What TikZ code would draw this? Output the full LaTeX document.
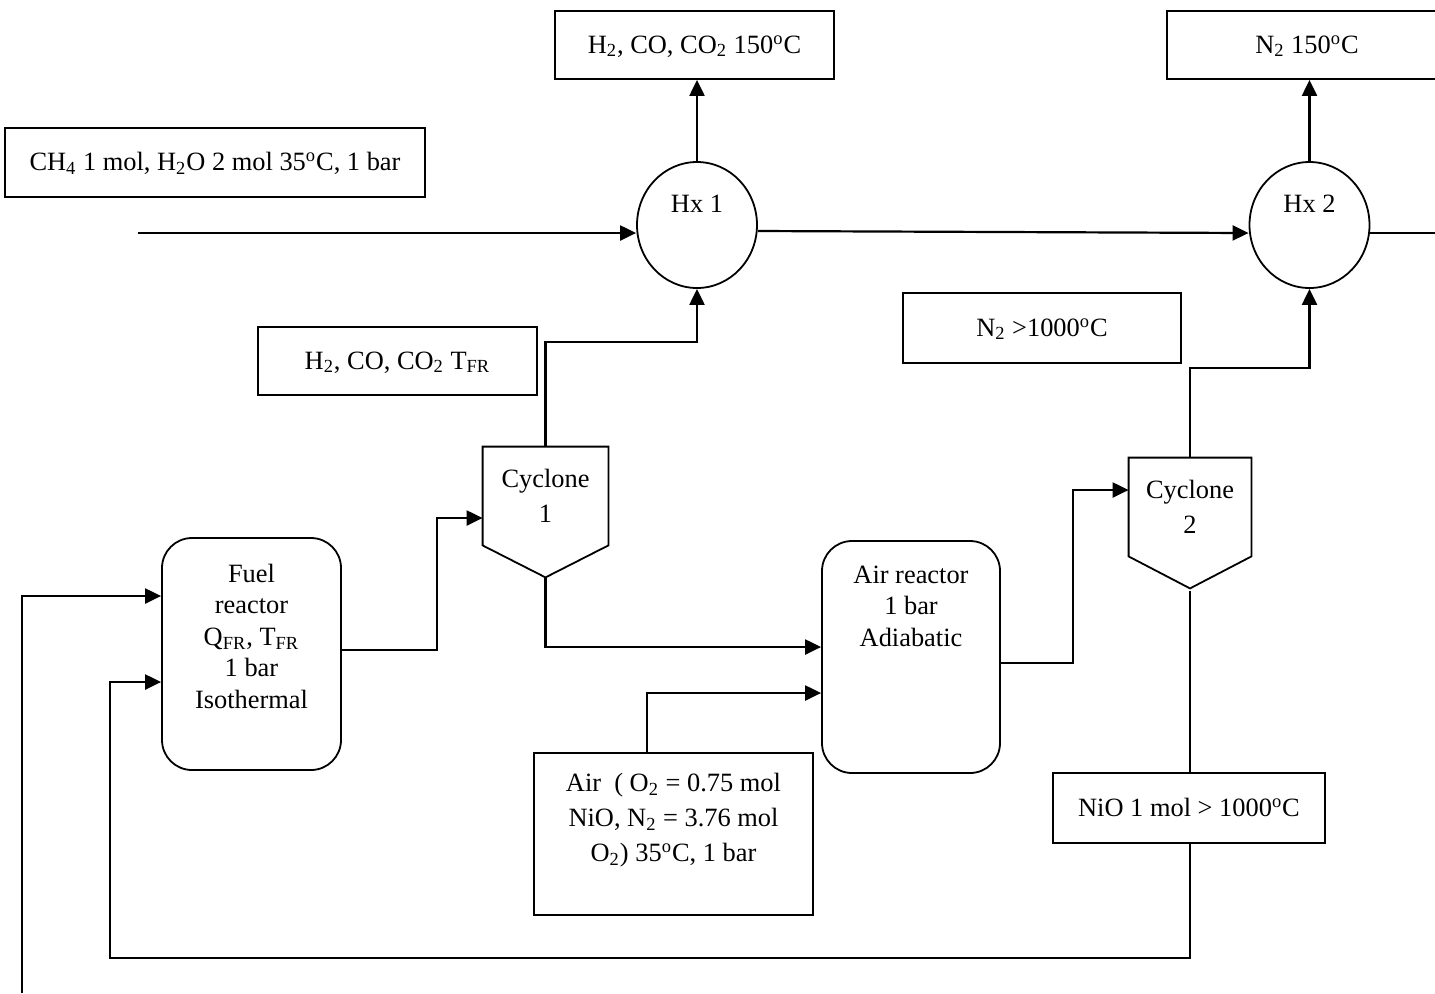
\documentclass[tikz,border=0pt]{standalone}
\usepackage{fontspec}
\setmainfont{Liberation Serif}
\usetikzlibrary{arrows.meta,shapes.geometric}
\tikzset{
  flow/.style={line width=1.1pt,-{Triangle[length=8pt,width=7.5pt]}},
  plain/.style={line width=1.1pt},
  txtbox/.style={draw,line width=0.9pt,rectangle,inner sep=0pt,text height=10pt,text depth=2pt},
  hx/.style={draw,line width=0.9pt,ellipse,inner sep=0pt,minimum width=60pt,minimum height=63pt,text height=9pt,text depth=22pt},
  reactor/.style={draw,line width=0.9pt,rectangle,rounded corners=15pt,inner sep=0pt},
  cyc/.style={rectangle,inner sep=0pt,align=center,font=\fontsize{13.2}{17.5}\selectfont},
  cycline/.style={line width=0.9pt,line join=miter}
}
\begin{document}
\begin{tikzpicture}[x=0.5pt,y=-0.5pt,font=\fontsize{13.2}{15.75}\selectfont]
\useasboundingbox (0,0) rectangle (1435,993);

% text boxes
\node[txtbox,minimum width=210pt,minimum height=34.5pt] (feed) at (215,162.5)
  {CH\textsubscript{4} 1 mol, H\textsubscript{2}O 2 mol 35\textsuperscript{o}C, 1 bar};
\node[txtbox,minimum width=139.5pt,minimum height=34pt] (top1) at (694.5,45)
  {H\textsubscript{2}, CO, CO\textsubscript{2} 150\textsuperscript{o}C};
\node[txtbox,minimum width=140pt,minimum height=34pt] (top2) at (1307,45)
  {N\textsubscript{2} 150\textsuperscript{o}C};
\node[txtbox,minimum width=139.5pt,minimum height=34pt] (tfr) at (397.5,361)
  {H\textsubscript{2}, CO, CO\textsubscript{2} T\textsubscript{FR}};
\node[txtbox,minimum width=139pt,minimum height=35pt] (nhot) at (1042,328)
  {N\textsubscript{2} >1000\textsuperscript{o}C};
\node[txtbox,minimum width=136pt,minimum height=35pt] (nio) at (1189,808)
  {NiO 1 mol > 1000\textsuperscript{o}C};

% heat exchangers
\node[hx] (hx1) at (697,225) {Hx 1};
\node[hx] (hx2) at (1309.5,225) {Hx 2};

% reactors
\node[reactor] (fuel) at (251.5,654)
  {\parbox[c][116pt][t]{89.5pt}{\centering\vspace*{13pt}Fuel\\reactor\\Q\textsubscript{FR}, T\textsubscript{FR}\\1 bar\\Isothermal}};
\node[reactor] (air) at (911,657)
  {\parbox[c][116pt][t]{89pt}{\centering\vspace*{12.5pt}Air reactor\\1 bar\\Adiabatic}};
\node[draw,line width=0.9pt,rectangle,inner sep=0pt] (airbox) at (673.5,834)
  {\parbox[c][81pt][t]{139.5pt}{\centering\baselineskip=17.5pt\vspace*{10pt}Air\ \ ( O\textsubscript{2} = 0.75 mol\\NiO, N\textsubscript{2} = 3.76 mol\\O\textsubscript{2}) 35\textsuperscript{o}C, 1 bar}};

% cyclones
\node[cyc,minimum width=62.5pt,minimum height=49pt] (cyc1) at (545.5,496) {Cyclone\\1};
\coordinate (cyc1tip) at ([yshift=-16pt]cyc1.south);
\draw[cycline] (cyc1.north west) -- (cyc1.north east) -- (cyc1.south east) -- (cyc1tip) -- (cyc1.south west) -- cycle;
\node[cyc,minimum width=61pt,minimum height=49pt] (cyc2) at (1190,507) {Cyclone\\2};
\coordinate (cyc2tip) at ([yshift=-16pt]cyc2.south);
\draw[cycline] (cyc2.north west) -- (cyc2.north east) -- (cyc2.south east) -- (cyc2tip) -- (cyc2.south west) -- cycle;

% free ends
\coordinate (feedin) at (138,233);
\coordinate (hx2out) at (1435,233);
\coordinate (leftin) at (22,993);

% connectors
\draw[flow] (feedin) -- (hx1.west |- feedin);
\draw[flow] (hx1.north) -- (hx1.north |- top1.south);
\draw[flow] (hx2.north) -- (hx2.north |- top2.south);
\draw[flow] (hx1.east |- 0,231) -- (hx2.west |- 0,233);
\draw[plain] (hx2.east |- hx2out) -- (hx2out);
\draw[flow] (cyc1.north) -- ++(0,-105) -| (hx1.south);
\draw[flow] (fuel.east |- 0,650) -| (437,518) -- (cyc1.west |- 0,518);
\draw[flow] (cyc1tip) |- (air.west |- 0,647);
\draw[flow] (airbox.north -| 647,0) |- (air.west |- 0,693);
\draw[flow] (air.east |- 0,663) -| (1073,490) -- (cyc2.west |- 0,490);
\draw[flow] (cyc2.north) -- ++(0,-90) -| (hx2.south);
\draw[plain] ([yshift=-1.5pt]cyc2tip) -- (cyc2tip |- nio.north);
\draw[flow] (nio.south -| cyc2tip) -- ++(0,114) -| (110,682) -- (fuel.west |- 0,682);
\draw[flow] (leftin) |- (fuel.west |- 0,596);
\end{tikzpicture}
\end{document}
